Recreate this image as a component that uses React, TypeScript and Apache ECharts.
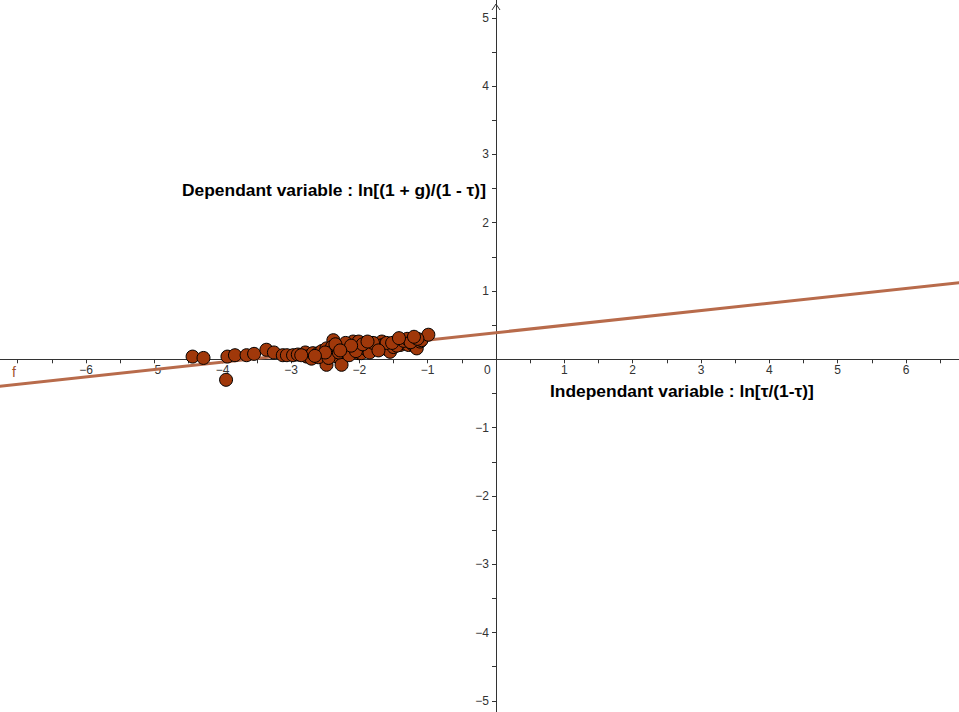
import { useEffect, useRef } from "react";
import * as echarts from "echarts";

// Observations: [ln(τ/(1-τ)), ln((1+g)/(1-τ))]
const observations: [number, number][] = [
  [-4.44, 0.04], [-4.28, 0.02], [-3.93, 0.04], [-3.82, 0.06], [-3.95, -0.3],
  [-3.65, 0.06], [-3.54, 0.08], [-3.36, 0.14], [-3.25, 0.1], [-3.12, 0.06],
  [-3.06, 0.06], [-2.97, 0.06], [-2.9, 0.07], [-2.79, 0.1], [-2.77, 0.04],
  [-2.7, 0.01], [-2.68, 0.09], [-2.6, 0.09], [-2.55, 0.12], [-2.53, 0.04],
  [-2.48, 0.16], [-2.43, 0.09], [-2.48, -0.08], [-2.38, 0.28], [-2.4, 0.18],
  [-2.36, 0.14], [-2.33, 0.04], [-2.26, -0.08], [-2.26, 0.16], [-2.21, 0.21],
  [-2.19, 0.11], [-2.09, 0.26], [-2.11, 0.14], [-2.04, 0.18], [-2.01, 0.09],
  [-2.01, 0.26], [-1.97, 0.16], [-1.97, 0.09], [-1.89, 0.14], [-1.82, 0.18],
  [-1.77, 0.23], [-1.75, 0.16], [-1.67, 0.26], [-1.65, 0.21], [-1.6, 0.15],
  [-1.55, 0.11], [-1.5, 0.18], [-1.45, 0.26], [-1.4, 0.21], [-1.38, 0.28],
  [-1.33, 0.23], [-1.28, 0.21], [-1.26, 0.28], [-1.21, 0.21], [-1.16, 0.16],
  [-1.11, 0.26], [-1.09, 0.28], [-0.99, 0.36],
  [-2.6, 0.03], [-2.45, 0.02], [-2.3, 0.1], [-2.15, 0.06], [-2.05, 0.12],
  [-1.9, 0.2], [-1.85, 0.1], [-1.7, 0.2], [-1.6, 0.24], [-1.45, 0.2],
  [-1.35, 0.27], [-1.3, 0.3], [-2.2, 0.24], [-2.35, 0.22], [-2.5, 0.1],
  [-2.65, 0.05], [-2.85, 0.06], [-1.8, 0.24], [-1.95, 0.22], [-1.25, 0.25],
  [-1.15, 0.3], [-1.72, 0.13], [-1.52, 0.24], [-1.88, 0.26], [-2.12, 0.2],
  [-1.42, 0.31], [-1.2, 0.33], [-2.28, 0.13],
];

// Fitted line f, endpoints beyond the visible window
const lineF: [number, number][] = [
  [-8, -0.474],
  [7, 1.146],
];

// Visible window
const xRange = [-7.258, 6.775];
const yRange = [-5.164, 5.261];

// Ticks (every half unit) and labels (integers, origin labelled separately)
const xTicks = [
  -7, -6.5, -6, -5.5, -5, -4.5, -4, -3.5, -3, -2.5, -2, -1.5, -1, -0.5,
  0.5, 1, 1.5, 2, 2.5, 3, 3.5, 4, 4.5, 5, 5.5, 6, 6.5,
];
const xLabels = [-6, -5, -4, -3, -2, -1, 1, 2, 3, 4, 5, 6];
const yTicks = [
  -5, -4.5, -4, -3.5, -3, -2.5, -2, -1.5, -1, -0.5,
  0.5, 1, 1.5, 2, 2.5, 3, 3.5, 4, 4.5, 5,
];
const yLabels = [-5, -4, -3, -2, -1, 1, 2, 3, 4, 5];

const MINUS = "\u2212";
const fmt = (v: number) => (v < 0 ? MINUS + Math.abs(v) : String(v));

const W = 959;
const H = 712;

export default function App() {
  const ref = useRef<HTMLDivElement>(null);

  useEffect(() => {
    if (!ref.current) return;
    const chart = echarts.init(ref.current, null, { renderer: "svg" });
    const axisColor = "#333";
    const labelFont = {
      color: "#333",
      fontSize: 12,
      fontFamily: "Liberation Sans, Arial, sans-serif",
    };
    const titleStyle = {
      fontSize: 17.4,
      fontWeight: "bold",
      fontFamily: "Liberation Sans, Arial, sans-serif",
      fill: "#000",
    };
    // pixel position of the origin inside the window
    const ox = ((0 - xRange[0]) / (xRange[1] - xRange[0])) * W;
    const oy = ((yRange[1] - 0) / (yRange[1] - yRange[0])) * H;

    chart.setOption({
      animation: false,
      backgroundColor: "#ffffff",
      grid: {
        left: 0,
        top: 0,
        right: 0,
        bottom: 0,
        containLabel: false,
        outerBoundsMode: "none",
      },
      xAxis: {
        type: "value",
        min: xRange[0],
        max: xRange[1],
        position: "bottom",
        offset: -(H - oy),
        axisLine: { onZero: false, lineStyle: { color: axisColor, width: 1 } },
        axisTick: {
          show: true,
          length: 4,
          customValues: xTicks,
          lineStyle: { color: axisColor },
        },
        splitLine: { show: false },
        axisLabel: {
          ...labelFont,
          margin: 5,
          customValues: xLabels,
          formatter: (v: number) => fmt(v),
        },
      },
      yAxis: {
        type: "value",
        min: yRange[0],
        max: yRange[1],
        position: "left",
        offset: -ox,
        axisLine: { onZero: false, lineStyle: { color: axisColor, width: 1 } },
        axisTick: {
          show: true,
          length: 4,
          customValues: yTicks,
          lineStyle: { color: axisColor },
        },
        splitLine: { show: false },
        axisLabel: {
          ...labelFont,
          margin: 7,
          customValues: yLabels,
          formatter: (v: number) => fmt(v),
        },
      },
      series: [
        {
          name: "f",
          type: "line",
          data: lineF,
          showSymbol: false,
          symbol: "none",
          lineStyle: { color: "#B86B4B", width: 3 },
          z: 2,
          silent: true,
        },
        {
          type: "scatter",
          data: observations,
          symbolSize: 13,
          itemStyle: { color: "#A0380A", borderColor: "#000000", borderWidth: 1, opacity: 1 },
          z: 3,
        },
      ],
      graphic: [
        {
          type: "text",
          left: 182,
          top: 181,
          style: { text: "Dependant variable : ln[(1 + g)/(1 - τ)]", ...titleStyle },
        },
        {
          type: "text",
          left: 550,
          top: 382,
          style: { text: "Independant variable : ln[τ/(1-τ)]", ...titleStyle },
        },
        {
          type: "text",
          left: ox - 12,
          top: oy + 5,
          style: { text: "0", ...labelFont, fill: "#333" },
        },
        {
          type: "text",
          left: 12,
          top: 365,
          style: {
            text: "f",
            fontSize: 14,
            fontFamily: "Liberation Sans, Arial, sans-serif",
            fill: "#A0522D",
          },
        },
        {
          type: "polyline",
          shape: { points: [[ox - 4, 10], [ox, 4], [ox + 4, 10]] },
          style: { stroke: axisColor, lineWidth: 1, fill: "none" },
        },
      ],
    });
    return () => chart.dispose();
  }, []);

  return (
    <div
      ref={ref}
      style={{ position: "absolute", left: 0, top: 0, width: W, height: H }}
    />
  );
}
